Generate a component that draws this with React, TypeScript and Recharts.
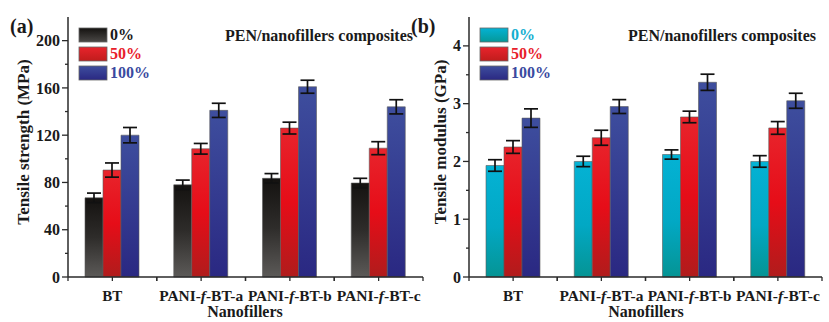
import React from "react";
import { BarChart, Bar, XAxis, YAxis, ErrorBar } from "recharts";

// categories and series
const categories = ["BT", "PANI-f-BT-a", "PANI-f-BT-b", "PANI-f-BT-c"];
const seriesNames = ["0%", "50%", "100%"];

// (a) tensile strength, MPa
const strength0 = [67, 78, 83.5, 79.5];
const strength50 = [90.5, 108.5, 126, 109];
const strength100 = [120, 141, 161, 144];
const strengthErr0 = [4, 4, 4, 4];
const strengthErr50 = [6, 4.5, 5, 5.5];
const strengthErr100 = [6.5, 6, 5.5, 6];
const strengthTicks = [0, 20, 40, 60, 80, 100, 120, 140, 160, 180, 200];

// (b) tensile modulus, GPa
const modulus0 = [1.93, 2.0, 2.12, 2.0];
const modulus50 = [2.25, 2.41, 2.77, 2.58];
const modulus100 = [2.75, 2.95, 3.37, 3.05];
const modulusErr0 = [0.1, 0.09, 0.08, 0.1];
const modulusErr50 = [0.11, 0.13, 0.1, 0.11];
const modulusErr100 = [0.16, 0.12, 0.14, 0.13];
const modulusTicks = [0, 0.5, 1, 1.5, 2, 2.5, 3, 3.5, 4];

const FONT = "'Liberation Serif', 'Times New Roman', serif";
const AXIS = "#2a2a2a";
const TEXT = "#1a1a1a";
const RED_TXT = "#e8202a";
const BLUE_TXT = "#3a4aa0";
const CYAN_TXT = "#14aed0";

const build = (v0: number[], v50: number[], v100: number[], e0: number[], e50: number[], e100: number[]) =>
  categories.map((name, i) => ({ name, v0: v0[i], v50: v50[i], v100: v100[i], e0: e0[i], e50: e50[i], e100: e100[i] }));

const strengthData = build(strength0, strength50, strength100, strengthErr0, strengthErr50, strengthErr100);
const modulusData = build(modulus0, modulus50, modulus100, modulusErr0, modulusErr50, modulusErr100);

const XTick = (props: any) => {
  const { x, y, payload } = props;
  const half = payload && payload.offset ? payload.offset : 44.4;
  const label = String(payload.value);
  const parts = label.split("-f-");
  const long = parts.length > 1;
  return (
    <g>
      <line x1={x} x2={x} y1={y} y2={y + 4} stroke={AXIS} strokeWidth={1.3} />
      <line x1={x - half} x2={x - half} y1={y} y2={y + 4} stroke={AXIS} strokeWidth={1.3} />
      <line x1={x + half} x2={x + half} y1={y} y2={y + 4} stroke={AXIS} strokeWidth={1.3} />
      <text
        x={x}
        y={y + 24}
        textAnchor="middle"
        fontFamily={FONT}
        fontWeight="bold"
        fontSize={15}
        fill={TEXT}
        {...(long ? { textLength: 84, lengthAdjust: "spacingAndGlyphs" } : {})}
      >
        {long ? (
          <>
            <tspan>{parts[0]}-</tspan>
            <tspan fontStyle="italic">f</tspan>
            <tspan>-{parts[1]}</tspan>
          </>
        ) : (
          label
        )}
      </text>
    </g>
  );
};

const makeYTick = (isMajor: (v: number) => boolean) => (props: any) => {
  const { x, y, payload } = props;
  const v = Number(payload.value);
  const major = isMajor(v);
  return (
    <g>
      <line x1={x - (major ? 6 : 3)} x2={x} y1={y} y2={y} stroke={AXIS} strokeWidth={1.3} />
      {major && (
        <text x={x - 8} y={y} dy="0.35em" textAnchor="end" fontFamily={FONT} fontWeight="bold" fontSize={16} fill={TEXT}>
          {v}
        </text>
      )}
    </g>
  );
};

type PanelProps = {
  id: string;
  data: any[];
  domain: [number, number];
  ticks: number[];
  isMajor: (v: number) => boolean;
  firstColor: string;
  width: number;
  marginRight: number;
};

const Panel = ({ id, data, domain, ticks, isMajor, firstColor, width, marginRight }: PanelProps) => {
  const fills = [`url(#${id}g0)`, `url(#${id}g50)`, `url(#${id}g100)`];
  const keys = ["v0", "v50", "v100"];
  const errs = ["e0", "e50", "e100"];
  return (
    <BarChart width={width} height={322} data={data} margin={{ top: 17, right: marginRight, bottom: 0, left: 0 }} barGap={0} barSize={18}>
      <defs>
        {firstColor === "black" ? (
          <linearGradient id={`${id}g0`} x1="0" y1="0" x2="0" y2="1">
            <stop offset="0%" stopColor="#141210" />
            <stop offset="50%" stopColor="#2e2c2a" />
            <stop offset="100%" stopColor="#5c5a58" />
          </linearGradient>
        ) : (
          <linearGradient id={`${id}g0`} x1="0" y1="0" x2="0" y2="1">
            <stop offset="0%" stopColor="#04b2d4" />
            <stop offset="55%" stopColor="#02a8c4" />
            <stop offset="100%" stopColor="#059494" />
          </linearGradient>
        )}
        <linearGradient id={`${id}g50`} x1="0" y1="0" x2="0" y2="1">
          <stop offset="0%" stopColor="#e8242c" />
          <stop offset="50%" stopColor="#e60d18" />
          <stop offset="100%" stopColor="#b01c1c" />
        </linearGradient>
        <linearGradient id={`${id}g100`} x1="0" y1="0" x2="0" y2="1">
          <stop offset="0%" stopColor="#3e4e9e" />
          <stop offset="100%" stopColor="#2a2882" />
        </linearGradient>
      </defs>
      <XAxis
        dataKey="name"
        height={45}
        tickSize={0}
        tickMargin={0}
        tickLine={false}
        interval={0}
        tick={<XTick />}
        axisLine={{ stroke: AXIS, strokeWidth: 1.5 }}
      />
      <XAxis xAxisId="top" dataKey="name" orientation="top" height={0} tick={false} tickLine={false} axisLine={{ stroke: AXIS, strokeWidth: 1.5 }} />
      <YAxis
        width={68}
        domain={domain}
        ticks={ticks}
        interval={0}
        tickSize={0}
        tickMargin={0}
        tickLine={false}
        tick={makeYTick(isMajor)}
        axisLine={{ stroke: AXIS, strokeWidth: 1.5 }}
      />
      <YAxis yAxisId="right" orientation="right" width={0} domain={domain} tick={false} tickLine={false} axisLine={{ stroke: AXIS, strokeWidth: 1.5 }} />
      {keys.map((k, i) => (
        <Bar key={k} dataKey={k} name={seriesNames[i]} fill={fills[i]} stroke="#5a5a5a" strokeWidth={0.6} isAnimationActive={false}>
          <ErrorBar dataKey={errs[i]} width={7} strokeWidth={1.7} stroke="#111" isAnimationActive={false} />
        </Bar>
      ))}
    </BarChart>
  );
};

const Swatch = ({ x, y, fill }: { x: number; y: number; fill: string }) => (
  <rect x={x} y={y} width={28} height={14} fill={fill} stroke="#666" strokeWidth={0.8} />
);

const Annotations = ({ dx, tag, yLabel, yLabelX, firstColor, firstTxt, titleRight, id }: any) => {
  const rows = [28, 47, 66];
  const txtColors = [firstTxt, RED_TXT, BLUE_TXT];
  const fills = [`url(#${id}l0)`, `url(#${id}l50)`, `url(#${id}l100)`];
  return (
    <g fontFamily={FONT} fontWeight="bold">
      <defs>
        <linearGradient id={`${id}l0`} x1="0" y1="0" x2="0" y2="1">
          {firstColor === "black" ? (
            <>
              <stop offset="0%" stopColor="#141210" />
              <stop offset="100%" stopColor="#4a4846" />
            </>
          ) : (
            <>
              <stop offset="0%" stopColor="#04b2d4" />
              <stop offset="100%" stopColor="#059898" />
            </>
          )}
        </linearGradient>
        <linearGradient id={`${id}l50`} x1="0" y1="0" x2="0" y2="1">
          <stop offset="0%" stopColor="#e8242c" />
          <stop offset="100%" stopColor="#c01c1c" />
        </linearGradient>
        <linearGradient id={`${id}l100`} x1="0" y1="0" x2="0" y2="1">
          <stop offset="0%" stopColor="#3e4e9e" />
          <stop offset="100%" stopColor="#2a2882" />
        </linearGradient>
      </defs>
      <text x={dx + 10} y={33} fontSize={20} fill={TEXT}>
        {tag}
      </text>
      {rows.map((ry, i) => (
        <g key={i}>
          <Swatch x={dx + 79} y={ry} fill={fills[i]} />
          <text x={dx + 110} y={ry + 12} fontSize={16} fill={txtColors[i]}>
            {seriesNames[i]}
          </text>
        </g>
      ))}
      <text x={titleRight} y={41} textAnchor="end" fontSize={16} fill={TEXT}>
        PEN/nanofillers composites
      </text>
      <text
        x={yLabelX}
        y={142}
        textAnchor="middle"
        dominantBaseline="central"
        fontSize={17}
        fill={TEXT}
        transform={`rotate(-90 ${yLabelX} ${142})`}
      >
        {yLabel}
      </text>
      <text x={dx + 245} y={317} textAnchor="middle" fontSize={16} fill={TEXT}>
        Nanofillers
      </text>
    </g>
  );
};

export default function App() {
  return (
    <div style={{ position: "absolute", left: 0, top: 0, width: 829, height: 322, background: "#fff", overflow: "hidden" }}>
      <div style={{ position: "absolute", left: 0, top: 0 }}>
        <Panel
          id="a"
          data={strengthData}
          domain={[0, 220]}
          ticks={strengthTicks}
          isMajor={(v) => v % 40 === 0}
          firstColor="black"
          width={425}
          marginRight={2}
        />
      </div>
      <div style={{ position: "absolute", left: 401, top: 0 }}>
        <Panel
          id="b"
          data={modulusData}
          domain={[0, 4.5]}
          ticks={modulusTicks}
          isMajor={(v) => Number.isInteger(v)}
          firstColor="cyan"
          width={428}
          marginRight={7}
        />
      </div>
      <svg width={829} height={322} style={{ position: "absolute", left: 0, top: 0, pointerEvents: "none" }}>
        <Annotations dx={0} id="la" tag="(a)" yLabel="Tensile strength (MPa)" yLabelX={23} firstColor="black" firstTxt={TEXT} titleRight={413} />
        <Annotations dx={401} id="lb" tag="(b)" yLabel="Tensile modulus (GPa)" yLabelX={440} firstColor="cyan" firstTxt={CYAN_TXT} titleRight={816} />
      </svg>
    </div>
  );
}
